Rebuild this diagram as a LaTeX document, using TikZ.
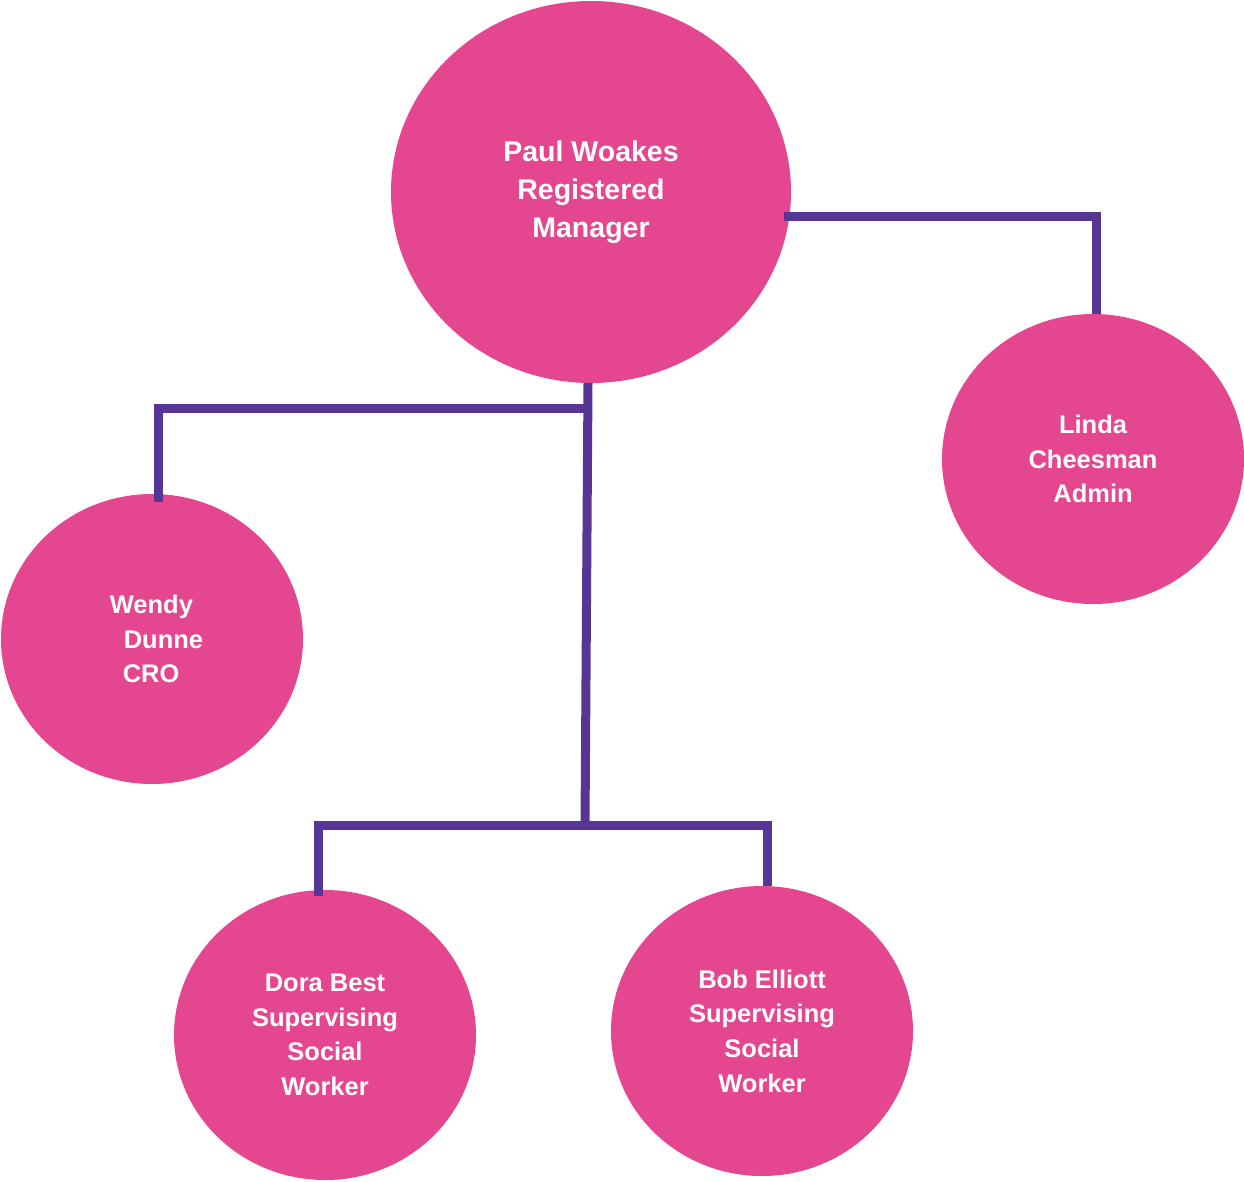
\documentclass[tikz,border=0pt]{standalone}
\usepackage{fontspec}
\setmainfont{Liberation Sans}
\usetikzlibrary{shapes.geometric}
\definecolor{staffpink}{HTML}{E54690}
\definecolor{linkpurple}{HTML}{573594}

\begin{document}
\begin{tikzpicture}[x=1pt,y=-1pt]
\tikzset{person/.style={ellipse,fill=staffpink,text=white,inner sep=0pt,align=center,
    minimum width=302pt,minimum height=290pt,font=\bfseries\fontsize{25.5}{34.6}\selectfont}}
\tikzset{link/.style={draw=linkpurple,line width=9pt}}
\useasboundingbox (0,0) rectangle (1244,1181);

\node[person,minimum width=400pt,minimum height=382pt,font=\bfseries\fontsize{28.5}{38}\selectfont]
    (paul) at (591,192) {Paul Woakes\\Registered\\Manager};
\node[person] (linda) at (1093,459) {Linda\\Cheesman\\Admin};
\node[person,align=left] (wendy) at (152,639)
    {\hspace*{9pt}Wendy\\\hspace*{23pt}Dunne\\\hspace*{22pt}CRO};
\node[person] (dora) at (325,1035) {Dora Best\\Supervising\\Social\\Worker};
\node[person] (bob) at (762,1031) {Bob Elliott\\Supervising\\Social\\Worker};

\coordinate (jl) at (1096,216);
\coordinate (jw) at (158,408);
\coordinate (jb) at (585,825);
\coordinate (jdl) at (318,825);
\coordinate (jdr) at (767,825);

\draw[link] ([xshift=-6pt]paul.-7 |- jl) -- (jl) -- (jl |- linda.north);
\draw[link] ([xshift=-3pt]paul.south) -- (jb);
\draw[link] ([xshift=-3pt]paul.south |- jw) -- (jw) -- ([yshift=-8pt]jw |- wendy.north);
\draw[link] ([yshift=-6pt]jdl |- dora.north) -- (jdl) -- (jdr) -- (jdr |- bob.north);
\end{tikzpicture}
\end{document}
